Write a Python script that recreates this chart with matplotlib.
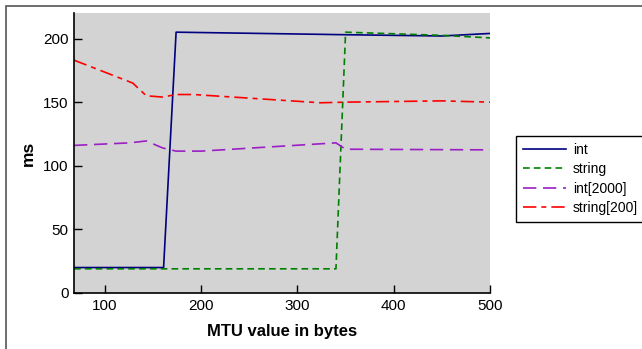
import matplotlib.pyplot as plt
from matplotlib.patches import Rectangle

plt.rcParams['font.family'] = ['Liberation Sans', 'DejaVu Sans']

# MTU sweep, response time in ms
int_x = [68, 161, 174, 350, 450, 500]
int_y = [20, 20, 205, 203, 202, 204]

string_x = [68, 340, 350, 450, 500]
string_y = [19, 19, 205, 202.5, 200.5]

int2000_x = [68, 126, 143, 160, 174, 200, 340, 350, 500]
int2000_y = [116, 118, 119.5, 114, 111.5, 111.5, 118, 113, 112.5]

string200_x = [68, 129, 143, 160, 174, 192, 324, 350, 450, 500]
string200_y = [183, 165, 155, 154, 156, 156, 149.5, 150, 151, 150]

fig = plt.figure(figsize=(6.42, 3.49), dpi=100)
ax = fig.add_axes([0.1153, 0.1605, 0.648, 0.802])
ax.set_facecolor('#d3d3d3')

ax.plot(int_x, int_y, color='#000080', lw=1.2, label='int')
ax.plot(string_x, string_y, color='#008000', lw=1.2, dashes=(4, 2.5), label='string')
ax.plot(int2000_x, int2000_y, color='#9a1fc4', lw=1.2, dashes=(8, 4), label='int[2000]')
ax.plot(string200_x, string200_y, color='#ff0000', lw=1.2, dashes=(8, 3, 3, 3), label='string[200]')

ax.set_xlim(68, 500)
ax.set_ylim(0, 220)
ax.set_xticks([100, 200, 300, 400, 500])
ax.set_yticks([0, 50, 100, 150, 200])
ax.tick_params(direction='in', length=5.5, width=1, labelsize=11, pad=4)
for s in ['top', 'right']:
    ax.spines[s].set_visible(False)
for s in ['left', 'bottom']:
    ax.spines[s].set_linewidth(1.2)

ax.set_xlabel('MTU value in bytes', fontsize=12, fontweight='bold', labelpad=8)
ax.set_ylabel('ms', fontsize=12.5, fontweight='bold', labelpad=5)

leg = fig.legend(loc='upper left', bbox_to_anchor=(0.804, 0.37, 0.25, 0.24),
                 mode='expand', fancybox=False, edgecolor='black', framealpha=1,
                 fontsize=10, handlelength=3.1, handletextpad=0.5,
                 borderaxespad=0, labelspacing=0.38, borderpad=0.5)
leg.get_frame().set_linewidth(1)

# outer frame round the figure
fig.patches.append(Rectangle((6 / 642, -0.1), 1.1, 1 - 6 / 349 + 0.1,
                             transform=fig.transFigure, fill=False,
                             edgecolor='#555555', lw=1.2))

fig.savefig('out.png', dpi=100)
